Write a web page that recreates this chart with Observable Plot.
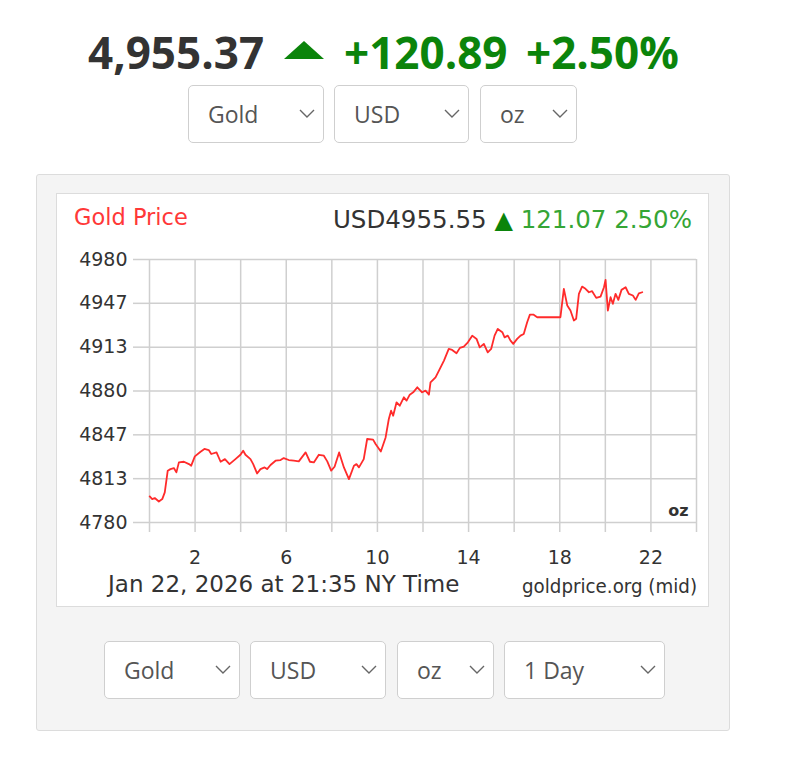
<!DOCTYPE html>
<html><head><meta charset="utf-8">
<script src="https://cdn.jsdelivr.net/npm/d3@7"></script>
<script src="https://cdn.jsdelivr.net/npm/@observablehq/plot@0.6"></script>
<style>
body{margin:0;width:790px;height:772px;background:#fff;position:relative;overflow:hidden;font-family:"Open Sans",sans-serif;}
.abs{position:absolute;white-space:nowrap;}
.hdr{font-size:44px;font-weight:700;line-height:44px;top:30px;}
.sel{position:absolute;box-sizing:border-box;border:1.5px solid #cfcfcf;border-radius:5px;background:#fff;height:58px;display:flex;align-items:center;font-size:23px;line-height:23px;color:#555;padding-left:19px;}
.sel svg{position:absolute;right:8px;top:23px;}
#panel{position:absolute;left:36px;top:174px;width:694px;height:557px;box-sizing:border-box;background:#f4f4f4;border:1px solid #dcdcdc;border-radius:3px;}
#card{position:absolute;left:56px;top:193px;width:653px;height:414px;box-sizing:border-box;background:#fff;border:1px solid #dcdcdc;}
.ct{font-family:"DejaVu Sans",sans-serif;}
#plot{position:absolute;left:56px;top:235px;}
</style></head>
<body>
<div class="abs hdr" style="left:88px;color:#333">4,955.37</div>
<div class="abs" style="left:284px;top:41px;width:0;height:0;border-left:20px solid transparent;border-right:20px solid transparent;border-bottom:18px solid #0b840b;"></div>
<div class="abs hdr" style="left:344px;color:#0b840b">+120.89</div>
<div class="abs hdr" style="left:526px;color:#0b840b">+2.50%</div>

<div id="selTop"></div>
<div id="panel"></div>
<div id="card"></div>
<div class="abs ct" style="left:74px;top:206px;font-size:22.5px;line-height:22.5px;color:#ff3838">Gold Price</div>
<div class="abs ct" style="right:98px;top:208px;font-size:24.5px;line-height:24.5px;color:#333">USD4955.55 <span style="color:#0b840b;font-size:24px">▲</span><span style="color:#35a535"> 121.07 2.50%</span></div>
<div id="plot"></div>
<div class="abs ct" style="left:108px;top:573px;font-size:23px;line-height:23px;color:#333">Jan 22, 2026 at 21:35 NY Time</div>
<div class="abs ct" style="right:93px;top:576px;font-size:20.3px;line-height:20.3px;color:#333;font-family:'DejaVu Sans Condensed','DejaVu Sans',sans-serif">goldprice.org (mid)</div>
<div id="selBot"></div>

<script>
// ---- data ----
const hours = [0.01,0.12,0.23,0.41,0.56,0.67,0.80,0.92,1.07,1.18,1.29,1.51,1.73,1.83,1.99,2.24,2.41,2.60,2.71,2.94,3.12,3.31,3.51,3.77,3.99,4.11,4.21,4.43,4.55,4.72,4.87,5.05,5.16,5.31,5.53,5.75,5.89,6.11,6.33,6.55,6.85,7.04,7.21,7.43,7.65,7.80,7.97,8.12,8.32,8.53,8.75,8.97,9.08,9.19,9.40,9.55,9.81,9.92,10.15,10.36,10.50,10.60,10.69,10.84,10.98,11.16,11.28,11.42,11.57,11.75,11.96,12.11,12.26,12.33,12.55,12.70,12.92,13.13,13.28,13.47,13.62,13.79,13.97,14.16,14.35,14.49,14.67,14.84,14.99,15.14,15.28,15.48,15.58,15.72,15.84,15.96,16.13,16.28,16.42,16.57,16.69,16.84,17.01,18.03,18.18,18.33,18.47,18.62,18.72,18.84,18.98,19.13,19.28,19.42,19.60,19.79,19.94,20.01,20.11,20.23,20.33,20.45,20.57,20.71,20.89,21.03,21.21,21.33,21.47,21.62];
const prices = [4799.8,4797.8,4798.6,4796.0,4797.8,4802.9,4819.4,4820.6,4821.4,4818.1,4825.7,4826.2,4824.4,4823.2,4830.3,4833.8,4835.9,4835.1,4832.1,4833.3,4826.2,4828.2,4824.4,4828.2,4831.5,4834.6,4831.5,4828.2,4824.4,4817.3,4820.6,4821.9,4820.6,4823.7,4827.0,4827.5,4829.0,4827.5,4827.0,4826.5,4833.3,4826.2,4825.7,4831.5,4830.8,4826.5,4819.4,4822.4,4833.3,4821.9,4813.0,4823.2,4824.4,4821.9,4828.2,4843.5,4843.0,4839.7,4834.0,4844.7,4858.7,4865.0,4861.2,4871.4,4868.8,4875.2,4872.7,4877.2,4879.0,4882.8,4879.0,4880.3,4877.2,4886.6,4890.4,4895.5,4903.1,4912.0,4911.2,4908.7,4912.8,4913.8,4917.0,4922.1,4919.6,4913.2,4915.8,4909.4,4912.0,4922.1,4927.2,4924.7,4920.8,4922.1,4918.3,4915.8,4919.6,4922.1,4923.4,4932.3,4938.1,4938.1,4936.1,4936.1,4957.7,4945.0,4941.2,4933.6,4934.9,4953.9,4959.4,4957.7,4955.1,4955.9,4950.8,4951.8,4958.9,4964.5,4941.2,4951.3,4946.3,4953.9,4949.3,4956.9,4958.9,4953.9,4952.6,4949.3,4954.3,4955.1];
const xTicks = [0,2,4,6,8,10,12,14,16,18,20,22,24];
const xLabelTicks = [2,6,10,14,18,22];
const xTickLabels = ["2","6","10","14","18","22"];
const yTicks = [4780,4813.33,4846.67,4880,4913.33,4946.67,4980];
const yTickLabels = ["4780","4813","4847","4880","4913","4947","4980"];
const topSelects = ["Gold","USD","oz"];
const botSelects = ["Gold","USD","oz","1 Day"];

// ---- selects (page furniture) ----
const chev = '<svg width="16" height="9"><polyline points="1,1 8,8 15,1" fill="none" stroke="#666" stroke-width="1.4"/></svg>';
function selects(id, labels, lefts, widths, top){
  const host = document.getElementById(id);
  labels.forEach((t,i)=>{
    const d = document.createElement("div");
    d.className = "sel";
    d.style.left = lefts[i]+"px"; d.style.top = top+"px"; d.style.width = widths[i]+"px";
    d.innerHTML = "<span>"+t+"</span>"+chev;
    host.appendChild(d);
  });
}
selects("selTop", topSelects, [188,334,480], [136,135,97], 85);
selects("selBot", botSelects, [104,250,397,504], [136,136,97,161], 641);

// ---- chart ----
const rows = hours.map((h,i)=>({h, p: prices[i]}));
const gridColor = "#cfcfcf";
const chart = Plot.plot({
  width: 653, height: 345,
  marginLeft: 93, marginRight: 13, marginTop: 24, marginBottom: 58,
  style: {fontFamily: "DejaVu Sans", fontSize: "19px", color: "#333", background: "transparent", overflow: "visible"},
  x: {domain: [0, 24], axis: null},
  y: {domain: [4780, 4980], axis: null},
  marks: [
    Plot.gridX(xTicks, {stroke: gridColor, strokeOpacity: 1, strokeWidth: 1.5}),
    Plot.gridY(yTicks, {stroke: gridColor, strokeOpacity: 1, strokeWidth: 1.5}),
    Plot.axisX(xTicks, {tickSize: 10, stroke: gridColor, strokeWidth: 1.5, fill: "none", label: null}),
    Plot.axisX(xLabelTicks, {tickSize: 0, tickPadding: 28, stroke: "none", fill: "#333", fontSize: 19, label: null,
      tickFormat: d => xTickLabels[xLabelTicks.indexOf(d)]}),
    Plot.axisY(yTicks, {tickSize: 16, tickPadding: 6, stroke: gridColor, strokeWidth: 1.5, fill: "#333", fontSize: 19, label: null,
      tickFormat: d => yTickLabels[yTicks.indexOf(d)]}),
    Plot.line(rows, {x: "h", y: "p", stroke: "#ff2b2b", strokeWidth: 1.8}),
    Plot.text(["oz"], {frameAnchor: "bottom-right", dx: -8, dy: -7, fontWeight: "bold", fontSize: 16, fill: "#333"})
  ]
});
document.getElementById("plot").appendChild(chart);
</script>
</body></html>
